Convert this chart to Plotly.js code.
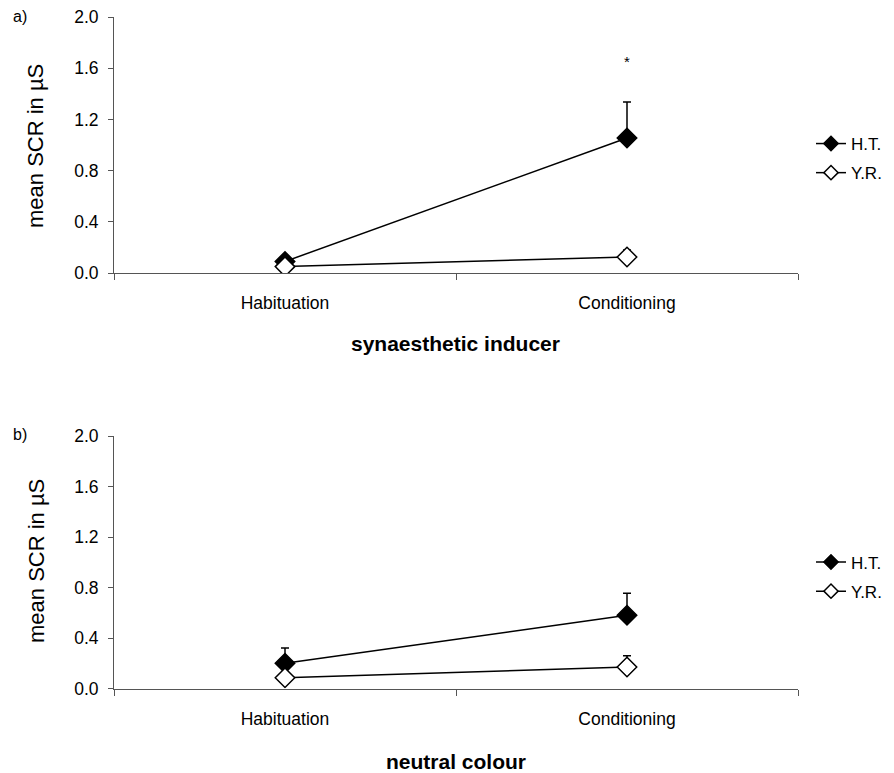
<!DOCTYPE html>
<html>
<head>
<meta charset="utf-8">
<script src="https://cdn.plot.ly/plotly-3.0.1.min.js"></script>
<style>html,body{margin:0;padding:0;background:#fff;}#chart{width:894px;height:773px;}</style>
</head>
<body>
<div id="chart"></div>
<script>
const categories = ['Habituation', 'Conditioning'];
const seriesNames = ['H.T.', 'Y.R.'];
// Panel a: synaesthetic inducer
const a_HT = [0.09, 1.055];
const a_HT_err = [0.02, 0.28];
const a_YR = [0.05, 0.125];
const a_YR_err = [0.02, 0.055];
// Panel b: neutral colour
const b_HT = [0.20, 0.58];
const b_HT_err = [0.12, 0.175];
const b_YR = [0.085, 0.17];
const b_YR_err = [0.02, 0.09];
const yTicks = [0, 0.4, 0.8, 1.2, 1.6, 2.0];
const panelTitles = ['synaesthetic inducer', 'neutral colour'];
const panelLabels = ['a)', 'b)'];
const yTitle = 'mean SCR in µS';

const FONT = 'Arial, "Liberation Sans", sans-serif';
const W = 894, H = 773;
const px = v => v / W;
const py = v => 1 - v / H;

function mk(name, y, err, filled, xa, ya) {
  return {
    type: 'scatter', mode: 'lines+markers', name: name, showlegend: false,
    x: categories, y: y, xaxis: xa, yaxis: ya,
    line: {color: '#000', width: 1.5},
    marker: {symbol: 'diamond', size: 15, color: filled ? '#000' : '#fff', line: {color: '#000', width: 1.5}},
    error_y: {type: 'data', array: err, arrayminus: err.map(() => 0), symmetric: false, color: '#000', thickness: 1.5, width: 4}
  };
}
// legend-only entries (smaller symbols, as in the original legend)
function lg(name, filled, xa, ya, leg, grp) {
  return {
    type: 'scatter', mode: 'lines+markers', name: name, x: [null], y: [null],
    xaxis: xa, yaxis: ya, legend: leg, legendgroup: grp, showlegend: true,
    line: {color: '#000', width: 1.5},
    marker: {symbol: 'diamond', size: 11, color: filled ? '#000' : '#fff', line: {color: '#000', width: 1.5}}
  };
}

const traces = [
  mk(seriesNames[0], a_HT, a_HT_err, true, 'x', 'y'),
  mk(seriesNames[1], a_YR, a_YR_err, false, 'x', 'y'),
  mk(seriesNames[0], b_HT, b_HT_err, true, 'x2', 'y2'),
  mk(seriesNames[1], b_YR, b_YR_err, false, 'x2', 'y2'),
  lg(seriesNames[0], true, 'x', 'y', 'legend', 'g1'),
  lg(seriesNames[1], false, 'x', 'y', 'legend', 'g2'),
  lg(seriesNames[0], true, 'x2', 'y2', 'legend2', 'g3'),
  lg(seriesNames[1], false, 'x2', 'y2', 'legend2', 'g4')
];

const xax = dom => ({
  domain: dom, type: 'category', categoryarray: categories, range: [-0.5, 1.5],
  tickson: 'boundaries', ticks: 'outside', ticklen: 6, tickcolor: '#555', tickwidth: 1,
  showline: true, linecolor: '#555', linewidth: 1, showgrid: false, zeroline: false,
  ticklabelstandoff: 14, tickfont: {family: FONT, size: 17.5, color: '#000'}, fixedrange: true
});
const yax = (dom, anchor) => ({
  domain: dom, anchor: anchor, range: [0, 2], tickvals: yTicks, tickformat: '.1f',
  ticks: 'outside', ticklen: 5, tickcolor: '#555', tickwidth: 1,
  showline: true, linecolor: '#555', linewidth: 1, showgrid: false, zeroline: false,
  ticklabelstandoff: 6, tickfont: {family: FONT, size: 17.5, color: '#000'}, fixedrange: true
});

const xd = [px(114), px(798)];
const legendCommon = {
  xref: 'paper', yref: 'paper', xanchor: 'left', yanchor: 'middle',
  font: {family: FONT, size: 17, color: '#000'}, bgcolor: 'rgba(0,0,0,0)',
  traceorder: 'grouped', tracegroupgap: 4, itemwidth: 30
};

function ann(text, x, y, size, extra) {
  return Object.assign({text: text, x: px(x), y: py(y), xref: 'paper', yref: 'paper', showarrow: false,
    xanchor: 'center', yanchor: 'middle', font: {family: FONT, size: size, color: '#000'}}, extra || {});
}

const layout = {
  width: W, height: H, margin: {l: 0, r: 0, t: 0, b: 0},
  paper_bgcolor: '#fff', plot_bgcolor: '#fff', showlegend: true,
  font: {family: FONT, color: '#000'},
  xaxis: Object.assign(xax(xd), {anchor: 'y'}),
  yaxis: yax([py(273), py(17)], 'x'),
  xaxis2: Object.assign(xax(xd), {anchor: 'y2'}),
  yaxis2: yax([py(688.5), py(436)], 'x2'),
  legend: Object.assign({x: px(811), y: py(158.5)}, legendCommon),
  legend2: Object.assign({x: px(811), y: py(577)}, legendCommon),
  annotations: [
    {text: '*', x: 'Conditioning', y: 1.65, xref: 'x', yref: 'y', showarrow: false, xanchor: 'center', yanchor: 'middle', font: {family: FONT, size: 15, color: '#000'}},
    ann(panelLabels[0], 20, 17, 16),
    ann(panelLabels[1], 20, 435, 16),
    ann(yTitle, 36, 146, 22, {textangle: -90}),
    ann(yTitle, 36, 561, 22, {textangle: -90}),
    ann('<b>' + panelTitles[0] + '</b>', 455.5, 344, 21),
    ann('<b>' + panelTitles[1] + '</b>', 455.5, 761, 21)
  ]
};

Plotly.newPlot('chart', traces, layout, {displayModeBar: false, staticPlot: true});
</script>
</body>
</html>
